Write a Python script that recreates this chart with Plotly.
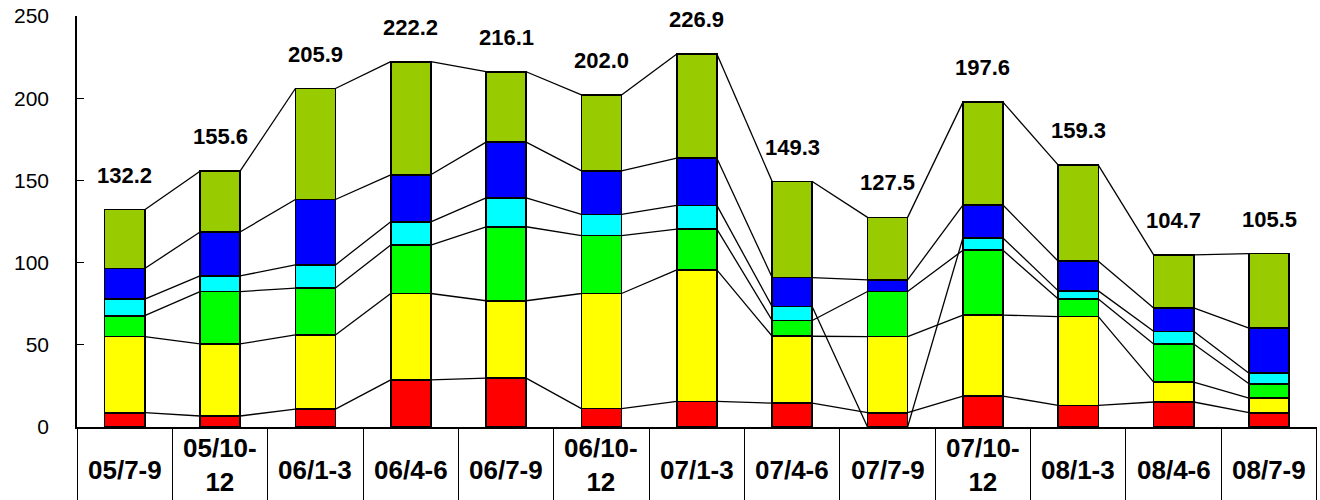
import plotly.graph_objects as go

# ---------------- data ----------------
categories = ["05/7-9", "05/10-<br>12", "06/1-3", "06/4-6", "06/7-9", "06/10-<br>12",
              "07/1-3", "07/4-6", "07/7-9", "07/10-<br>12", "08/1-3", "08/4-6", "08/7-9"]
red    = [8.7, 6.7, 10.9, 28.7, 29.7, 11.2, 15.6, 14.5, 8.7, 18.8, 13.2, 15.2, 8.7]
yellow = [46.3, 43.8, 45.1, 52.5, 47.1, 70.0, 80.0, 40.7, 46.3, 49.3, 53.9, 12.1, 8.9]
green  = [12.7, 31.9, 28.5, 29.5, 45.0, 35.2, 24.8, 9.6, 27.4, 39.4, 10.7, 23.2, 8.7]
cyan   = [10.1, 9.5, 14.1, 14.1, 17.6, 12.9, 14.4, 8.4, None, 7.5, 5.0, 7.7, 6.4]
blue   = [18.6, 26.7, 39.8, 28.6, 33.9, 26.5, 28.7, 17.7, 7.1, 20.0, 18.0, 14.2, 27.5]
olive  = [35.8, 37.0, 67.5, 68.8, 42.8, 46.2, 63.4, 58.4, 38.0, 62.6, 58.5, 32.3, 45.3]
totals = [132.2, 155.6, 205.9, 222.2, 216.1, 202.0, 226.9, 149.3, 127.5, 197.6, 159.3, 104.7, 105.5]
y_ticks = [0, 50, 100, 150, 200, 250]

# ---------------- style ----------------
series = [red, yellow, green, cyan, blue, olive]
colors = ["#FF0000", "#FFFF00", "#00FF00", "#00FFFF", "#0000FF", "#99CC00"]
FONT = "Arial, Liberation Sans, sans-serif"
BAR_W = 0.42
n = len(categories)
xs = list(range(n))
x_range = [-0.5, n - 0.5 + 0.003]

fig = go.Figure()

for vals, col in zip(series, colors):
    fig.add_trace(go.Bar(
        x=xs, y=vals, width=BAR_W, marker=dict(color=col, line=dict(color="black", width=1.6)),
        showlegend=False, hoverinfo="skip"))

# series lines (connect tops of each stacked series, Excel-style)
cum = [0.0] * n
hw = BAR_W / 2
for vals in series:
    tops = []
    for i in range(n):
        if vals[i] is None:
            tops.append(0.0)
        else:
            cum[i] += vals[i]
            tops.append(cum[i])
    lx, ly = [], []
    for i in range(n - 1):
        lx += [i + hw, i + 1 - hw, None]
        ly += [tops[i], tops[i + 1], None]
    fig.add_trace(go.Scatter(x=lx, y=ly, mode="lines", xaxis="x2", yaxis="y",
                             line=dict(color="black", width=1.3),
                             showlegend=False, hoverinfo="skip"))

annotations = []
for i, t in enumerate(totals):
    annotations.append(dict(x=i, y=t, xref="x", yref="y", text=f"{t:.1f}", showarrow=False,
                            yanchor="bottom", yshift=20,
                            font=dict(family=FONT, size=22, color="black", weight="bold")))
for i, c in enumerate(categories):
    two_lines = "<br>" in c
    annotations.append(dict(x=i, y=-0.093 if two_lines else -0.105, xref="x", yref="paper",
                            text=c, showarrow=False, yanchor="middle", xanchor="center",
                            font=dict(family=FONT, size=26, color="black", weight="bold")))

fig.update_layout(
    width=1320, height=500,
    margin=dict(l=77, r=3, t=16, b=73, autoexpand=False),
    barmode="stack",
    plot_bgcolor="white", paper_bgcolor="white",
    font=dict(family=FONT, color="black"),
    xaxis=dict(range=x_range, showticklabels=False, ticks="", showgrid=False,
               zeroline=False, showline=True, linecolor="black", linewidth=1.5,
               automargin=False),
    xaxis2=dict(range=x_range, overlaying="x", anchor="y", side="bottom",
                tickvals=[k - 0.5 for k in range(n + 1)], ticks="outside", ticklen=73,
                tickwidth=1.3, tickcolor="black", showticklabels=False, showgrid=False,
                zeroline=False, showline=False, automargin=False),
    yaxis=dict(range=[0, 250], tickvals=y_ticks, ticks="inside", ticklen=7, tickwidth=1.3,
               tickcolor="black", showline=True, linecolor="black", linewidth=1.5,
               showgrid=False, zeroline=False, ticklabelstandoff=22, automargin=False,
               tickfont=dict(family=FONT, size=21, color="black")),
    annotations=annotations,
)

# remove the page's default body margin so the figure fills the 1320x500 window exactly
fig.write_html("out.html", config={"displayModeBar": False},
               post_script="document.body.style.margin='0';")
